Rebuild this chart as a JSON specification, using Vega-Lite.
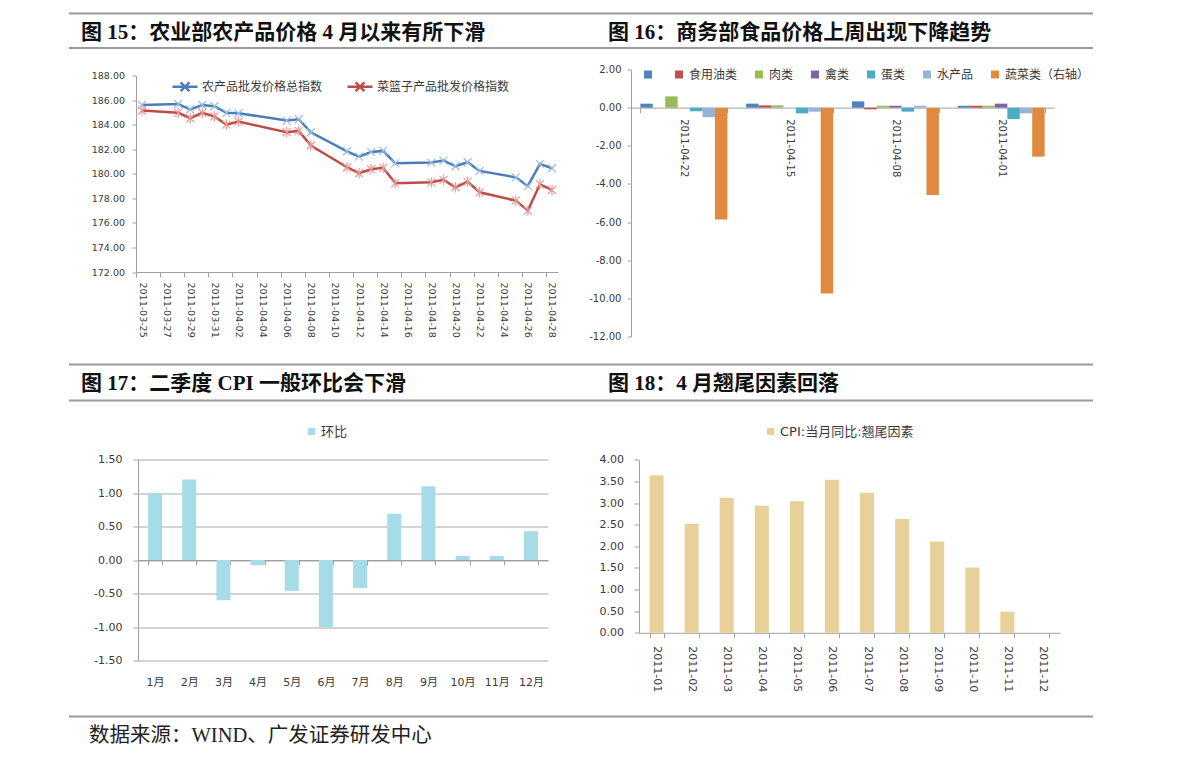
{
  "$schema": "https://vega.github.io/schema/vega-lite/v6.json",
  "background": "white",
  "autosize": {"type": "pad"},
  "padding": {"left": 68, "top": 12.5, "right": 5, "bottom": 0},
  "bounds": "flush",
  "align": "each",
  "spacing": 0,
  "columns": 4,
  "resolve": {"scale": {"color": "independent", "stroke": "independent", "shape": "independent"}},
  "config": {
    "view": {"stroke": null},
    "font": "DejaVu Sans, Noto Sans CJK SC",
    "locale": {"number": {"decimal": ".", "thousands": ",", "grouping": [3], "currency": ["", ""], "minus": "-"}},
    "axis": {"labelColor": "#3a3a3a", "domainColor": "#a0a0a0", "tickColor": "#a0a0a0", "grid": false, "labelOverlap": false, "labelFont": "DejaVu Sans, Noto Sans CJK SC"},
    "legend": {"labelColor": "#3a3a3a", "labelFont": "DejaVu Sans, Noto Sans CJK SC"},
    "title": {"font": "Liberation Serif, Noto Sans CJK SC", "fontSize": 21, "fontWeight": "bold", "color": "#111111", "anchor": "start", "frame": "group", "offset": -30, "dx": 12, "limit": 0}
  },
  "datasets": {
    "agri": [
      {"date": "2011-03-25", "series": "农产品批发价格总指数", "value": 185.60},
      {"date": "2011-03-28", "series": "农产品批发价格总指数", "value": 185.68},
      {"date": "2011-03-29", "series": "农产品批发价格总指数", "value": 185.23},
      {"date": "2011-03-30", "series": "农产品批发价格总指数", "value": 185.60},
      {"date": "2011-03-31", "series": "农产品批发价格总指数", "value": 185.50},
      {"date": "2011-04-01", "series": "农产品批发价格总指数", "value": 184.96},
      {"date": "2011-04-02", "series": "农产品批发价格总指数", "value": 184.93},
      {"date": "2011-04-06", "series": "农产品批发价格总指数", "value": 184.33},
      {"date": "2011-04-07", "series": "农产品批发价格总指数", "value": 184.44},
      {"date": "2011-04-08", "series": "农产品批发价格总指数", "value": 183.38},
      {"date": "2011-04-11", "series": "农产品批发价格总指数", "value": 181.83},
      {"date": "2011-04-12", "series": "农产品批发价格总指数", "value": 181.40},
      {"date": "2011-04-13", "series": "农产品批发价格总指数", "value": 181.78},
      {"date": "2011-04-14", "series": "农产品批发价格总指数", "value": 181.86},
      {"date": "2011-04-15", "series": "农产品批发价格总指数", "value": 180.85},
      {"date": "2011-04-18", "series": "农产品批发价格总指数", "value": 180.91},
      {"date": "2011-04-19", "series": "农产品批发价格总指数", "value": 181.07},
      {"date": "2011-04-20", "series": "农产品批发价格总指数", "value": 180.61},
      {"date": "2011-04-21", "series": "农产品批发价格总指数", "value": 180.94},
      {"date": "2011-04-22", "series": "农产品批发价格总指数", "value": 180.23},
      {"date": "2011-04-25", "series": "农产品批发价格总指数", "value": 179.71},
      {"date": "2011-04-26", "series": "农产品批发价格总指数", "value": 179.01},
      {"date": "2011-04-27", "series": "农产品批发价格总指数", "value": 180.80},
      {"date": "2011-04-28", "series": "农产品批发价格总指数", "value": 180.45},
      {"date": "2011-03-25", "series": "菜篮子产品批发价格指数", "value": 185.15},
      {"date": "2011-03-28", "series": "菜篮子产品批发价格指数", "value": 184.96},
      {"date": "2011-03-29", "series": "菜篮子产品批发价格指数", "value": 184.52},
      {"date": "2011-03-30", "series": "菜篮子产品批发价格指数", "value": 184.96},
      {"date": "2011-03-31", "series": "菜篮子产品批发价格指数", "value": 184.66},
      {"date": "2011-04-01", "series": "菜篮子产品批发价格指数", "value": 184.00},
      {"date": "2011-04-02", "series": "菜篮子产品批发价格指数", "value": 184.25},
      {"date": "2011-04-06", "series": "菜篮子产品批发价格指数", "value": 183.38},
      {"date": "2011-04-07", "series": "菜篮子产品批发价格指数", "value": 183.49},
      {"date": "2011-04-08", "series": "菜篮子产品批发价格指数", "value": 182.30},
      {"date": "2011-04-11", "series": "菜篮子产品批发价格指数", "value": 180.53},
      {"date": "2011-04-12", "series": "菜篮子产品批发价格指数", "value": 180.04},
      {"date": "2011-04-13", "series": "菜篮子产品批发价格指数", "value": 180.37},
      {"date": "2011-04-14", "series": "菜篮子产品批发价格指数", "value": 180.48},
      {"date": "2011-04-15", "series": "菜篮子产品批发价格指数", "value": 179.22},
      {"date": "2011-04-18", "series": "菜篮子产品批发价格指数", "value": 179.30},
      {"date": "2011-04-19", "series": "菜篮子产品批发价格指数", "value": 179.50},
      {"date": "2011-04-20", "series": "菜篮子产品批发价格指数", "value": 178.90},
      {"date": "2011-04-21", "series": "菜篮子产品批发价格指数", "value": 179.36},
      {"date": "2011-04-22", "series": "菜篮子产品批发价格指数", "value": 178.49},
      {"date": "2011-04-25", "series": "菜篮子产品批发价格指数", "value": 177.81},
      {"date": "2011-04-26", "series": "菜篮子产品批发价格指数", "value": 177.00},
      {"date": "2011-04-27", "series": "菜篮子产品批发价格指数", "value": 179.14},
      {"date": "2011-04-28", "series": "菜篮子产品批发价格指数", "value": 178.68}
    ],
    "food": [
      {"week": "2011-04-22", "category": " ", "value": 0.21},
      {"week": "2011-04-22", "category": "食用油类", "value": 0.0},
      {"week": "2011-04-22", "category": "肉类", "value": 0.59},
      {"week": "2011-04-22", "category": "禽类", "value": 0.0},
      {"week": "2011-04-22", "category": "蛋类", "value": -0.19},
      {"week": "2011-04-22", "category": "水产品", "value": -0.5},
      {"week": "2011-04-22", "category": "蔬菜类（右轴）", "value": -5.87},
      {"week": "2011-04-15", "category": " ", "value": 0.21},
      {"week": "2011-04-15", "category": "食用油类", "value": 0.12},
      {"week": "2011-04-15", "category": "肉类", "value": 0.12},
      {"week": "2011-04-15", "category": "禽类", "value": 0.0},
      {"week": "2011-04-15", "category": "蛋类", "value": -0.3},
      {"week": "2011-04-15", "category": "水产品", "value": -0.21},
      {"week": "2011-04-15", "category": "蔬菜类（右轴）", "value": -9.75},
      {"week": "2011-04-08", "category": " ", "value": 0.33},
      {"week": "2011-04-08", "category": "食用油类", "value": -0.09},
      {"week": "2011-04-08", "category": "肉类", "value": 0.1},
      {"week": "2011-04-08", "category": "禽类", "value": 0.1},
      {"week": "2011-04-08", "category": "蛋类", "value": -0.21},
      {"week": "2011-04-08", "category": "水产品", "value": 0.1},
      {"week": "2011-04-08", "category": "蔬菜类（右轴）", "value": -4.58},
      {"week": "2011-04-01", "category": " ", "value": 0.1},
      {"week": "2011-04-01", "category": "食用油类", "value": 0.1},
      {"week": "2011-04-01", "category": "肉类", "value": 0.1},
      {"week": "2011-04-01", "category": "禽类", "value": 0.21},
      {"week": "2011-04-01", "category": "蛋类", "value": -0.6},
      {"week": "2011-04-01", "category": "水产品", "value": -0.3},
      {"week": "2011-04-01", "category": "蔬菜类（右轴）", "value": -2.57}
    ],
    "mom": [
      {"month": "1月", "value": 1.0},
      {"month": "2月", "value": 1.2},
      {"month": "3月", "value": -0.6},
      {"month": "4月", "value": -0.08},
      {"month": "5月", "value": -0.46},
      {"month": "6月", "value": -1.0},
      {"month": "7月", "value": -0.42},
      {"month": "8月", "value": 0.69},
      {"month": "9月", "value": 1.1},
      {"month": "10月", "value": 0.06},
      {"month": "11月", "value": 0.06},
      {"month": "12月", "value": 0.43}
    ],
    "tail": [
      {"month": "2011-01", "value": 3.64},
      {"month": "2011-02", "value": 2.52},
      {"month": "2011-03", "value": 3.12},
      {"month": "2011-04", "value": 2.94},
      {"month": "2011-05", "value": 3.04},
      {"month": "2011-06", "value": 3.54},
      {"month": "2011-07", "value": 3.24},
      {"month": "2011-08", "value": 2.63},
      {"month": "2011-09", "value": 2.11},
      {"month": "2011-10", "value": 1.51},
      {"month": "2011-11", "value": 0.49},
      {"month": "2011-12", "value": 0.0}
    ]
  },
  "concat": [
    {
      "width": 67, "height": 34.5, "data": {"values": [{}]},
      "title": {"text": "图 15：农业部农产品价格 4 月以来有所下滑"},
      "layer": [
        {"mark": {"type": "rule", "color": "#9a9a9a", "strokeWidth": 2}, "encoding": {"y": {"datum": 1, "type": "quantitative", "scale": {"domain": [0, 1], "nice": false}, "axis": null}}},
        {"mark": {"type": "rule", "color": "#9a9a9a", "strokeWidth": 2}, "encoding": {"y": {"datum": 0, "type": "quantitative", "scale": {"domain": [0, 1], "nice": false}, "axis": null}}}
      ]
    },
    {
      "width": 422, "height": 34.5, "data": {"values": [{}]},
      "layer": [
        {"mark": {"type": "rule", "color": "#9a9a9a", "strokeWidth": 2}, "encoding": {"y": {"datum": 1, "type": "quantitative", "scale": {"domain": [0, 1], "nice": false}, "axis": null}}},
        {"mark": {"type": "rule", "color": "#9a9a9a", "strokeWidth": 2}, "encoding": {"y": {"datum": 0, "type": "quantitative", "scale": {"domain": [0, 1], "nice": false}, "axis": null}}}
      ]
    },
    {
      "width": 73, "height": 34.5, "data": {"values": [{}]},
      "layer": [
        {"mark": {"type": "rule", "color": "#9a9a9a", "strokeWidth": 2}, "encoding": {"y": {"datum": 1, "type": "quantitative", "scale": {"domain": [0, 1], "nice": false}, "axis": null}}},
        {"mark": {"type": "rule", "color": "#9a9a9a", "strokeWidth": 2}, "encoding": {"y": {"datum": 0, "type": "quantitative", "scale": {"domain": [0, 1], "nice": false}, "axis": null}}}
      ]
    },
    {
      "width": 462, "height": 34.5, "data": {"values": [{}]},
      "title": {"text": "图 16：商务部食品价格上周出现下降趋势", "dx": -23},
      "layer": [
        {"mark": {"type": "rule", "color": "#9a9a9a", "strokeWidth": 2}, "encoding": {"y": {"datum": 1, "type": "quantitative", "scale": {"domain": [0, 1], "nice": false}, "axis": null}}},
        {"mark": {"type": "rule", "color": "#9a9a9a", "strokeWidth": 2}, "encoding": {"y": {"datum": 0, "type": "quantitative", "scale": {"domain": [0, 1], "nice": false}, "axis": null}}}
      ]
    },

    {"width": 67, "height": 316, "data": {"values": []}, "mark": "point", "encoding": {}},
    {
      "width": 422, "height": 316,
      "data": {"name": "agri"},
      "encoding": {
        "x": {"field": "date", "type": "temporal", "title": null,
          "scale": {"type": "utc", "domain": [{"year": 2011, "month": 3, "date": 24, "hours": 12, "utc": true}, {"year": 2011, "month": 4, "date": 28, "hours": 12, "utc": true}]},
          "axis": {"offset": -92.5, "format": "%Y-%m-%d", "labelAngle": 90, "labelFontSize": 9.5, "tickSize": 5, "labelPadding": 5, "tickOffset": -6, "labelOffset": 6, "labelOverlap": false,
            "values": [
              {"year": 2011, "month": 3, "date": 25, "utc": true}, {"year": 2011, "month": 3, "date": 27, "utc": true},
              {"year": 2011, "month": 3, "date": 29, "utc": true}, {"year": 2011, "month": 3, "date": 31, "utc": true},
              {"year": 2011, "month": 4, "date": 2, "utc": true}, {"year": 2011, "month": 4, "date": 4, "utc": true},
              {"year": 2011, "month": 4, "date": 6, "utc": true}, {"year": 2011, "month": 4, "date": 8, "utc": true},
              {"year": 2011, "month": 4, "date": 10, "utc": true}, {"year": 2011, "month": 4, "date": 12, "utc": true},
              {"year": 2011, "month": 4, "date": 14, "utc": true}, {"year": 2011, "month": 4, "date": 16, "utc": true},
              {"year": 2011, "month": 4, "date": 18, "utc": true}, {"year": 2011, "month": 4, "date": 20, "utc": true},
              {"year": 2011, "month": 4, "date": 22, "utc": true}, {"year": 2011, "month": 4, "date": 24, "utc": true},
              {"year": 2011, "month": 4, "date": 26, "utc": true}, {"year": 2011, "month": 4, "date": 28, "utc": true}
            ]}},
        "y": {"field": "value", "type": "quantitative", "title": null,
          "scale": {"domain": [172, 188], "nice": false, "zero": false, "range": [223.5, 27]},
          "axis": {"values": [172, 174, 176, 178, 180, 182, 184, 186, 188], "format": ".2f", "labelFontSize": 9.5, "tickSize": 4, "labelPadding": 7.5, "labelOverlap": false}}
      },
      "layer": [
        {
          "mark": {"type": "line", "strokeWidth": 2.5},
          "encoding": {
            "color": {"field": "series", "type": "nominal",
              "scale": {"domain": ["农产品批发价格总指数", "菜篮子产品批发价格指数"], "range": ["#4a7ebb", "#be4b48"]},
              "legend": {"title": null, "orient": "none", "legendX": 35, "legendY": 24, "direction": "horizontal",
                "symbolType": "M-1,0L1,0M-0.35,-0.35L0.35,0.35M-0.35,0.35L0.35,-0.35", "symbolSize": 625, "symbolStrokeWidth": 2.5,
                "labelFontSize": 12, "labelOffset": 3, "columnPadding": 19}}
          }
        },
        {
          "transform": [{"filter": "datum.series === '农产品批发价格总指数'"}],
          "mark": {"type": "point", "filled": false, "size": 64, "strokeWidth": 1.2, "opacity": 1, "color": "#9dbce0", "shape": "M-1,-1L1,1M-1,1L1,-1"}
        },
        {
          "transform": [{"filter": "datum.series === '菜篮子产品批发价格指数'"}],
          "mark": {"type": "point", "filled": false, "size": 64, "strokeWidth": 1.2, "opacity": 1, "color": "#e49c9a", "shape": "M-1,-1L1,1M-1,1L1,-1M0,-1.3L0,1.3"}
        }
      ]
    },
    {"width": 73, "height": 316, "data": {"values": []}, "mark": "point", "encoding": {}},
    {
      "width": 423, "height": 316,
      "data": {"name": "food"},
      "mark": {"type": "bar"},
      "encoding": {
        "x": {"field": "week", "type": "nominal", "title": null, "sort": ["2011-04-22", "2011-04-15", "2011-04-08", "2011-04-01"],
          "scale": {"paddingInner": 0.177, "paddingOuter": 0.0885},
          "axis": {"offset": -256.86, "labelAngle": 90, "tickBand": "extent", "tickSize": 5, "labelPadding": 6, "labelFontSize": 10}},
        "xOffset": {"field": "category", "type": "nominal", "sort": [" ", "食用油类", "肉类", "禽类", "蛋类", "水产品", "蔬菜类（右轴）"], "scale": {"paddingInner": 0, "paddingOuter": 0}},
        "y": {"field": "value", "type": "quantitative", "title": null,
          "scale": {"domain": [-12, 2], "nice": false, "range": [288, 21]},
          "axis": {"values": [-12, -10, -8, -6, -4, -2, 0, 2], "format": ".2f", "labelFontSize": 10, "tickSize": 4, "labelPadding": 6}},
        "color": {"field": "category", "type": "nominal",
          "scale": {"domain": [" ", "食用油类", "肉类", "禽类", "蛋类", "水产品", "蔬菜类（右轴）"], "range": ["#4f81bd", "#c0504d", "#9bbb59", "#8064a2", "#4bacc6", "#95b3d7", "#df8a3e"]},
          "legend": {"title": null, "orient": "none", "legendX": 11, "legendY": 20, "direction": "horizontal", "symbolType": "square", "symbolSize": 64,
            "labelFontSize": 12, "labelOffset": 4, "columnPadding": 15}}
      }
    },

    {
      "width": 67, "height": 36, "data": {"values": [{}]},
      "title": {"text": "图 17：二季度 CPI 一般环比会下滑"},
      "layer": [
        {"mark": {"type": "rule", "color": "#9a9a9a", "strokeWidth": 2}, "encoding": {"y": {"datum": 1, "type": "quantitative", "scale": {"domain": [0, 1], "nice": false}, "axis": null}}},
        {"mark": {"type": "rule", "color": "#9a9a9a", "strokeWidth": 2}, "encoding": {"y": {"datum": 0, "type": "quantitative", "scale": {"domain": [0, 1], "nice": false}, "axis": null}}}
      ]
    },
    {
      "width": 422, "height": 36, "data": {"values": [{}]},
      "layer": [
        {"mark": {"type": "rule", "color": "#9a9a9a", "strokeWidth": 2}, "encoding": {"y": {"datum": 1, "type": "quantitative", "scale": {"domain": [0, 1], "nice": false}, "axis": null}}},
        {"mark": {"type": "rule", "color": "#9a9a9a", "strokeWidth": 2}, "encoding": {"y": {"datum": 0, "type": "quantitative", "scale": {"domain": [0, 1], "nice": false}, "axis": null}}}
      ]
    },
    {
      "width": 73, "height": 36, "data": {"values": [{}]},
      "layer": [
        {"mark": {"type": "rule", "color": "#9a9a9a", "strokeWidth": 2}, "encoding": {"y": {"datum": 1, "type": "quantitative", "scale": {"domain": [0, 1], "nice": false}, "axis": null}}},
        {"mark": {"type": "rule", "color": "#9a9a9a", "strokeWidth": 2}, "encoding": {"y": {"datum": 0, "type": "quantitative", "scale": {"domain": [0, 1], "nice": false}, "axis": null}}}
      ]
    },
    {
      "width": 462, "height": 36, "data": {"values": [{}]},
      "title": {"text": "图 18：4 月翘尾因素回落", "dx": -23},
      "layer": [
        {"mark": {"type": "rule", "color": "#9a9a9a", "strokeWidth": 2}, "encoding": {"y": {"datum": 1, "type": "quantitative", "scale": {"domain": [0, 1], "nice": false}, "axis": null}}},
        {"mark": {"type": "rule", "color": "#9a9a9a", "strokeWidth": 2}, "encoding": {"y": {"datum": 0, "type": "quantitative", "scale": {"domain": [0, 1], "nice": false}, "axis": null}}}
      ]
    },

    {"width": 67, "height": 316, "data": {"values": []}, "mark": "point", "encoding": {}},
    {
      "width": 412, "height": 316,
      "data": {"name": "mom"},
      "mark": {"type": "bar"},
      "encoding": {
        "x": {"field": "month", "type": "nominal", "title": null, "sort": null,
          "scale": {"paddingInner": 0.59, "paddingOuter": 0.295, "range": [2, 412]},
          "axis": {"offset": -156.5, "labelAngle": 0, "tickBand": "extent", "tickSize": 5, "labelPadding": 111, "labelFontSize": 11}},
        "y": {"field": "value", "type": "quantitative", "title": null,
          "scale": {"domain": [-1.5, 1.5], "nice": false, "range": [260, 59]},
          "axis": {"offset": -2, "values": [-1.5, -1, -0.5, 0, 0.5, 1, 1.5], "format": ".2f", "grid": true, "gridColor": "#a8a8a8", "labelFontSize": 11, "tickSize": 5, "labelPadding": 11}},
        "color": {"datum": "环比", "type": "nominal", "scale": {"range": ["#a6dce8"]},
          "legend": {"title": null, "orient": "none", "legendX": 169, "legendY": 24.5, "symbolType": "square", "symbolSize": 49, "labelFontSize": 13, "labelOffset": 3}}
      }
    },
    {"width": 73, "height": 316, "data": {"values": []}, "mark": "point", "encoding": {}},
    {
      "width": 429, "height": 316,
      "data": {"name": "tail"},
      "mark": {"type": "bar"},
      "encoding": {
        "x": {"field": "month", "type": "nominal", "title": null, "sort": null,
          "scale": {"paddingInner": 0.6, "paddingOuter": 0.3, "range": [8, 429]},
          "axis": {"offset": -83.7, "labelAngle": 90, "tickBand": "extent", "tickSize": 5, "labelPadding": 8, "labelFontSize": 11}},
        "y": {"field": "value", "type": "quantitative", "title": null,
          "scale": {"domain": [0, 4], "nice": false, "range": [232.3, 59.3]},
          "axis": {"offset": -8, "values": [0, 0.5, 1, 1.5, 2, 2.5, 3, 3.5, 4], "format": ".2f", "labelFontSize": 11, "tickSize": 5, "labelPadding": 10.5}},
        "color": {"datum": "CPI:当月同比:翘尾因素", "type": "nominal", "scale": {"range": ["#e8d199"]},
          "legend": {"title": null, "orient": "none", "legendX": 133, "legendY": 24.5, "symbolType": "square", "symbolSize": 49, "labelFontSize": 13, "labelOffset": 3}}
      }
    },

    {
      "width": 67, "height": 40, "data": {"values": [{}]},
      "title": {"text": "数据来源：WIND、广发证券研发中心", "fontWeight": "normal", "fontSize": 20.5, "dx": 20, "offset": -31, "color": "#222222"},
      "mark": {"type": "rule", "color": "#9a9a9a", "strokeWidth": 2},
      "encoding": {"y": {"datum": 1, "type": "quantitative", "scale": {"domain": [0, 1], "nice": false}, "axis": null}}
    },
    {
      "width": 422, "height": 40, "data": {"values": [{}]},
      "mark": {"type": "rule", "color": "#9a9a9a", "strokeWidth": 2},
      "encoding": {"y": {"datum": 1, "type": "quantitative", "scale": {"domain": [0, 1], "nice": false}, "axis": null}}
    },
    {
      "width": 73, "height": 40, "data": {"values": [{}]},
      "mark": {"type": "rule", "color": "#9a9a9a", "strokeWidth": 2},
      "encoding": {"y": {"datum": 1, "type": "quantitative", "scale": {"domain": [0, 1], "nice": false}, "axis": null}}
    },
    {
      "width": 462, "height": 40, "data": {"values": [{}]},
      "mark": {"type": "rule", "color": "#9a9a9a", "strokeWidth": 2},
      "encoding": {"y": {"datum": 1, "type": "quantitative", "scale": {"domain": [0, 1], "nice": false}, "axis": null}}
    }
  ]
}
